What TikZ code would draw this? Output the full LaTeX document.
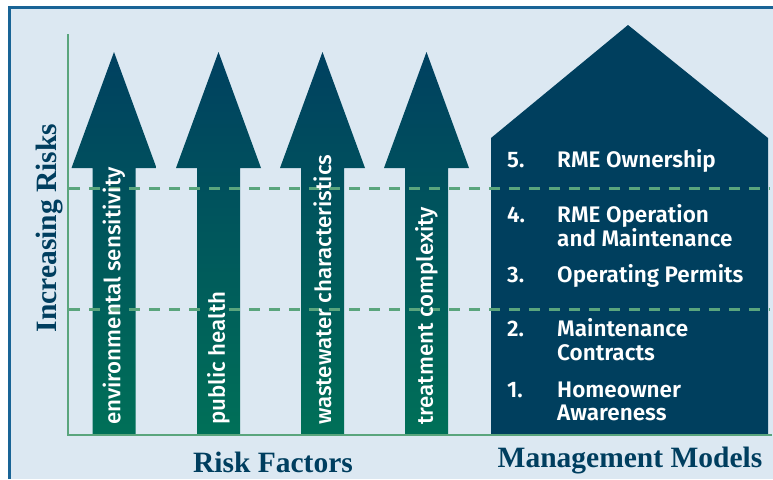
\documentclass[tikz,border=0pt]{standalone}
\usepackage{fontspec}
\setmainfont{Liberation Serif}
\newfontfamily\medsans{Fira Sans}[UprightFont=* Medium]
\newfontfamily\semisans{Fira Sans}[UprightFont=* SemiBold]
\definecolor{bg}{RGB}{220,232,242}
\definecolor{frameblue}{RGB}{25,100,150}
\definecolor{navy}{RGB}{0,63,94}
\definecolor{arrowtop}{RGB}{0,64,96}
\definecolor{arrowbot}{RGB}{0,112,88}
\definecolor{axisgreen}{RGB}{90,165,125}
\definecolor{titleblue}{RGB}{0,62,95}
\tikzset{
  riskarrow/.style={top color=arrowtop, bottom color=arrowbot},
  axisline/.style={draw=axisgreen, line width=2pt},
  levelline/.style={draw=axisgreen, line width=3pt, dash pattern=on 11pt off 9pt},
  arrowtext/.style={text=white, font=\medsans\fontsize{22.3}{24}\selectfont, rotate=90, anchor=west, inner sep=0pt},
  housetext/.style={text=white, font=\semisans\fontsize{22.5}{24}\selectfont, anchor=base west, inner sep=0pt},
  title/.style={text=titleblue, font=\bfseries\fontsize{29.5}{32}\selectfont, inner sep=0pt}
}
\begin{document}
\begin{tikzpicture}[x=1pt,y=-1pt]
\useasboundingbox (0,0) rectangle (773,479);
\fill[white] (0,0) rectangle (773,479);
\fill[bg] (9,7) rectangle (773,479);
\draw[frameblue, line width=2.5pt] (9.5,479) -- (9.5,7.5) -- (773,7.5);
% arrows
\foreach \cx/\nm in {114/a1,218.5/a2,322.5/a3,426.5/a4}{
  \shade[riskarrow] (\cx-21.5,435) -- (\cx-21.5,168) -- (\cx-42.5,168) -- (\cx,52)
    -- (\cx+42.5,168) -- (\cx+21.5,168) -- (\cx+21.5,435) -- cycle;
  \coordinate (\nm) at (\cx,425);
}
% house
\fill[navy] (491,434) -- (491,138) -- (628,25) -- (768,138) -- (768,434) -- cycle;
% axes
\draw[axisline] (67.5,34) -- (67.5,435) -- (772,435);
% level lines
\draw[levelline] (69,188.5) -- (770,188.5);
\draw[levelline] (69,309.5) -- (770,309.5);
% arrow labels
\node[arrowtext] (t1) at (a1) {environmental sensitivity};
\node[arrowtext] (t2) at (a2) {public health};
\node[arrowtext] (t3) at (a3) {wastewater characteristics};
\node[arrowtext] (t4) at (a4) {treatment complexity};
% house labels
\node[housetext] (n5) at (507,167) {5.};
\node[housetext] (m5) at (557,167) {RME Ownership};
\node[housetext] (n4) at (507,222) {4.};
\node[housetext] (m4a) at (557,222) {RME Operation};
\node[housetext] (m4b) at (557,246) {and Maintenance};
\node[housetext] (n3) at (507,282) {3.};
\node[housetext] (m3) at (557,282) {Operating Permits};
\node[housetext] (n2) at (507,336) {2.};
\node[housetext] (m2a) at (557,336) {Maintenance};
\node[housetext] (m2b) at (557,360) {Contracts};
\node[housetext] (n1) at (507,397) {1.};
\node[housetext] (m1a) at (557,397) {Homeowner};
\node[housetext] (m1b) at (557,420) {Awareness};
% titles
\node[title, rotate=90, anchor=base] (yl) at (56,228) {Increasing Risks};
\node[title, anchor=base] (xl) at (273,472) {Risk Factors};
\node[title, anchor=base] (hl) at (630,467) {Management Models};
\end{tikzpicture}
\end{document}
